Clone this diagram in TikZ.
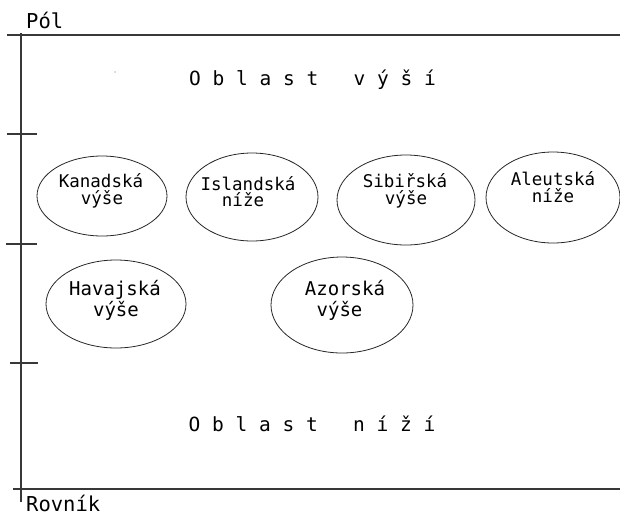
\documentclass[tikz,border=0pt]{standalone}
\usepackage{fontspec}
\setmainfont{DejaVu Sans Mono}
\usetikzlibrary{shapes.geometric}
\tikzset{
  axisline/.style={draw=black!78, line width=1.3pt},
  region/.style={ellipse, draw=black!85, line width=0.8pt, inner sep=0pt},
  smalltxt/.style={anchor=base, inner sep=0pt, font=\fontsize{17.5}{17.5}\selectfont},
  bigtxt/.style={anchor=base, inner sep=0pt, font=\fontsize{19}{19}\selectfont},
  zonetxt/.style={anchor=base, inner sep=0pt, font=\fontsize{19.5}{19.5}\selectfont},
  endtxt/.style={anchor=base west, inner sep=0pt, font=\fontsize{20.5}{20.5}\selectfont},
}
\begin{document}
\begin{tikzpicture}[x=1pt, y=-1pt]
\useasboundingbox (0,0) rectangle (620,517);
\clip (0,0) rectangle (620,517);

% frame: pole line, equator line and the meridian axis with its ticks
\draw[axisline] (7,35) -- (620,35);
\draw[axisline] (13,489) -- (620,489);
\draw[axisline] (21,33) -- (21,502);
\draw[axisline] (7,134) -- (37,134);
\draw[axisline] (6,244) -- (37,244);
\draw[axisline] (10,363) -- (38,363);
\fill[black!60] (115,72) circle (0.6pt);

% end labels
\node[endtxt] (pol) at (26,28) {Pól};
\node[endtxt] (rovnik) at (26,511.5) {Rovník};

% zone labels
\node[zonetxt] (vysi) at (312.5,85) {O b l a s t~~~v ý š í};
\node[zonetxt] (nizi) at (312,431) {O b l a s t~~~n í ž í};

% pressure centres
\node[region, minimum width=130pt, minimum height=80pt] (kan) at (102,196) {};
\node[smalltxt] (kan1) at (101,187) {Kanadská};
\node[smalltxt] (kan2) at (102,204) {výše};

\node[region, minimum width=132pt, minimum height=88pt] (isl) at (252,197) {};
\node[smalltxt] (isl1) at (248,190) {Islandská};
\node[smalltxt] (isl2) at (243,206.5) {níže};

\node[region, minimum width=138pt, minimum height=90pt] (sib) at (406,200) {};
\node[smalltxt] (sib1) at (405,187) {Sibiřská};
\node[smalltxt] (sib2) at (406,204) {výše};

\node[region, minimum width=134pt, minimum height=91pt] (ale) at (553,197.5) {};
\node[smalltxt] (ale1) at (553,185) {Aleutská};
\node[smalltxt] (ale2) at (553,202.5) {níže};

\node[region, minimum width=140pt, minimum height=88pt] (hav) at (116,304) {};
\node[bigtxt] (hav1) at (115,295) {Havajská};
\node[bigtxt] (hav2) at (116,316) {výše};

\node[region, minimum width=142pt, minimum height=96pt] (azo) at (342,305) {};
\node[bigtxt] (azo1) at (345,295) {Azorská};
\node[bigtxt] (azo2) at (339.5,316) {výše};
\end{tikzpicture}
\end{document}
